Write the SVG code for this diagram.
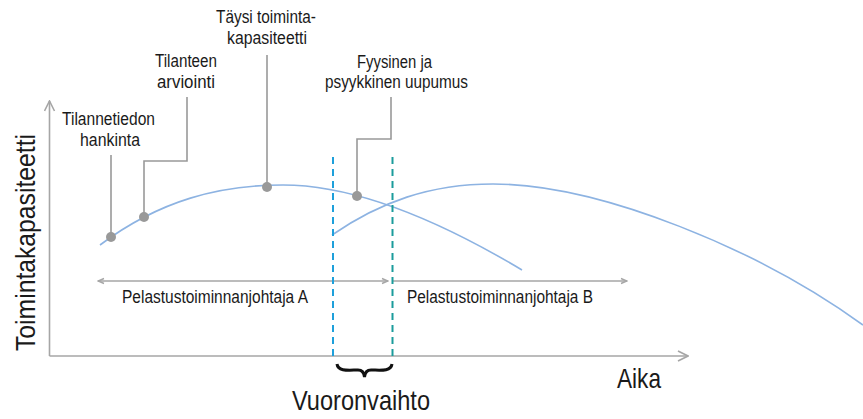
<svg xmlns="http://www.w3.org/2000/svg" width="863" height="419" viewBox="0 0 863 419">
<style>
text{font-family:"Liberation Sans",Arial,sans-serif;fill:#1a1a1a}
.lbl{font-size:17.5px;text-anchor:middle}
.big{font-size:28px}
.axis{stroke:#a6a6a6;stroke-width:1.6;fill:none}
.curve{stroke:#8db3e2;stroke-width:1.6;fill:none}
.lead{stroke:#999;stroke-width:1.6;fill:none}
.dot{fill:#999}
.span{stroke:#a6a6a6;stroke-width:1.4;fill:none}
</style>
<defs>
<marker id="ah" viewBox="0 0 12 12" refX="11" refY="6" markerWidth="12" markerHeight="12" markerUnits="userSpaceOnUse" orient="auto-start-reverse">
<path d="M1,1 L11,6 L1,11" fill="none" stroke="#a6a6a6" stroke-width="1.6"/>
</marker>
<marker id="sh" viewBox="0 0 8 8" refX="7" refY="4" markerWidth="8" markerHeight="8" markerUnits="userSpaceOnUse" orient="auto-start-reverse">
<path d="M1,1.5 L7,4 L1,6.5" fill="none" stroke="#a6a6a6" stroke-width="1.4"/>
</marker>
</defs>
<g id="axes">
<path class="axis" d="M49.5,356 L49.5,101" marker-end="url(#ah)"/>
<path class="axis" d="M49.5,356 L688,356" marker-end="url(#ah)"/>
<text class="big" transform="translate(35,351) rotate(-90)" textLength="217" lengthAdjust="spacingAndGlyphs">Toimintakapasiteetti</text>
<text class="big" x="617" y="388" textLength="44" lengthAdjust="spacingAndGlyphs">Aika</text>
</g>
<g id="curves">
<path class="curve" d="M100,245 C160,200 220,185 283,185 C350,185 430,215 522,270"/>
<path class="curve" d="M332,235 C380,202 430,184 493,184 C600,184 760,250 863,325"/>
</g>
<g id="connectors">
<path class="lead" d="M111,155 L111,237"/>
<path class="lead" d="M187,97 L187,161 L144,161 L144,217"/>
<path class="lead" d="M267,55 L267,187"/>
<path class="lead" d="M391,97 L391,139 L357,139 L357,197"/>
<path class="span" d="M98,281 L388,281" marker-start="url(#sh)" marker-end="url(#sh)"/>
<path class="span" d="M393,281 L627,281" marker-end="url(#sh)"/>
</g>
<g id="shift">
<line x1="333" y1="157" x2="333" y2="356" stroke="#1ea0db" stroke-width="2" stroke-dasharray="7,5"/>
<line x1="392.5" y1="157" x2="392.5" y2="356" stroke="#1b9c9c" stroke-width="2" stroke-dasharray="7,5"/>
<path d="M337,364 C338,372 350,370 358,370 C362,370 364,372 364.5,377 C365,372 367,370 371,370 C379,370 391,372 392,364" fill="none" stroke="#111" stroke-width="3"/>
<text class="big" x="292" y="410" textLength="138" lengthAdjust="spacingAndGlyphs">Vuoronvaihto</text>
</g>
<g id="n1">
<circle class="dot" cx="111" cy="237" r="5"/>
<text class="lbl" x="108.5" y="125" textLength="93" lengthAdjust="spacingAndGlyphs">Tilannetiedon</text>
<text class="lbl" x="110" y="146" textLength="60" lengthAdjust="spacingAndGlyphs">hankinta</text>
</g>
<g id="n2">
<circle class="dot" cx="144" cy="217" r="5"/>
<text class="lbl" x="186" y="67" textLength="62" lengthAdjust="spacingAndGlyphs">Tilanteen</text>
<text class="lbl" x="186" y="88" textLength="58" lengthAdjust="spacingAndGlyphs">arviointi</text>
</g>
<g id="n3">
<circle class="dot" cx="267" cy="187" r="5"/>
<text class="lbl" x="266" y="23" textLength="100" lengthAdjust="spacingAndGlyphs">Täysi toiminta-</text>
<text class="lbl" x="267" y="44" textLength="80" lengthAdjust="spacingAndGlyphs">kapasiteetti</text>
</g>
<g id="n4">
<circle class="dot" cx="357" cy="196" r="5"/>
<text class="lbl" x="394.5" y="68" textLength="75" lengthAdjust="spacingAndGlyphs">Fyysinen ja</text>
<text class="lbl" x="396.5" y="88" textLength="143" lengthAdjust="spacingAndGlyphs">psyykkinen uupumus</text>
</g>
<g id="spans">
<text class="lbl" x="215" y="303" textLength="186" lengthAdjust="spacingAndGlyphs">Pelastustoiminnanjohtaja A</text>
<text class="lbl" x="500" y="303" textLength="186" lengthAdjust="spacingAndGlyphs">Pelastustoiminnanjohtaja B</text>
</g>
</svg>
